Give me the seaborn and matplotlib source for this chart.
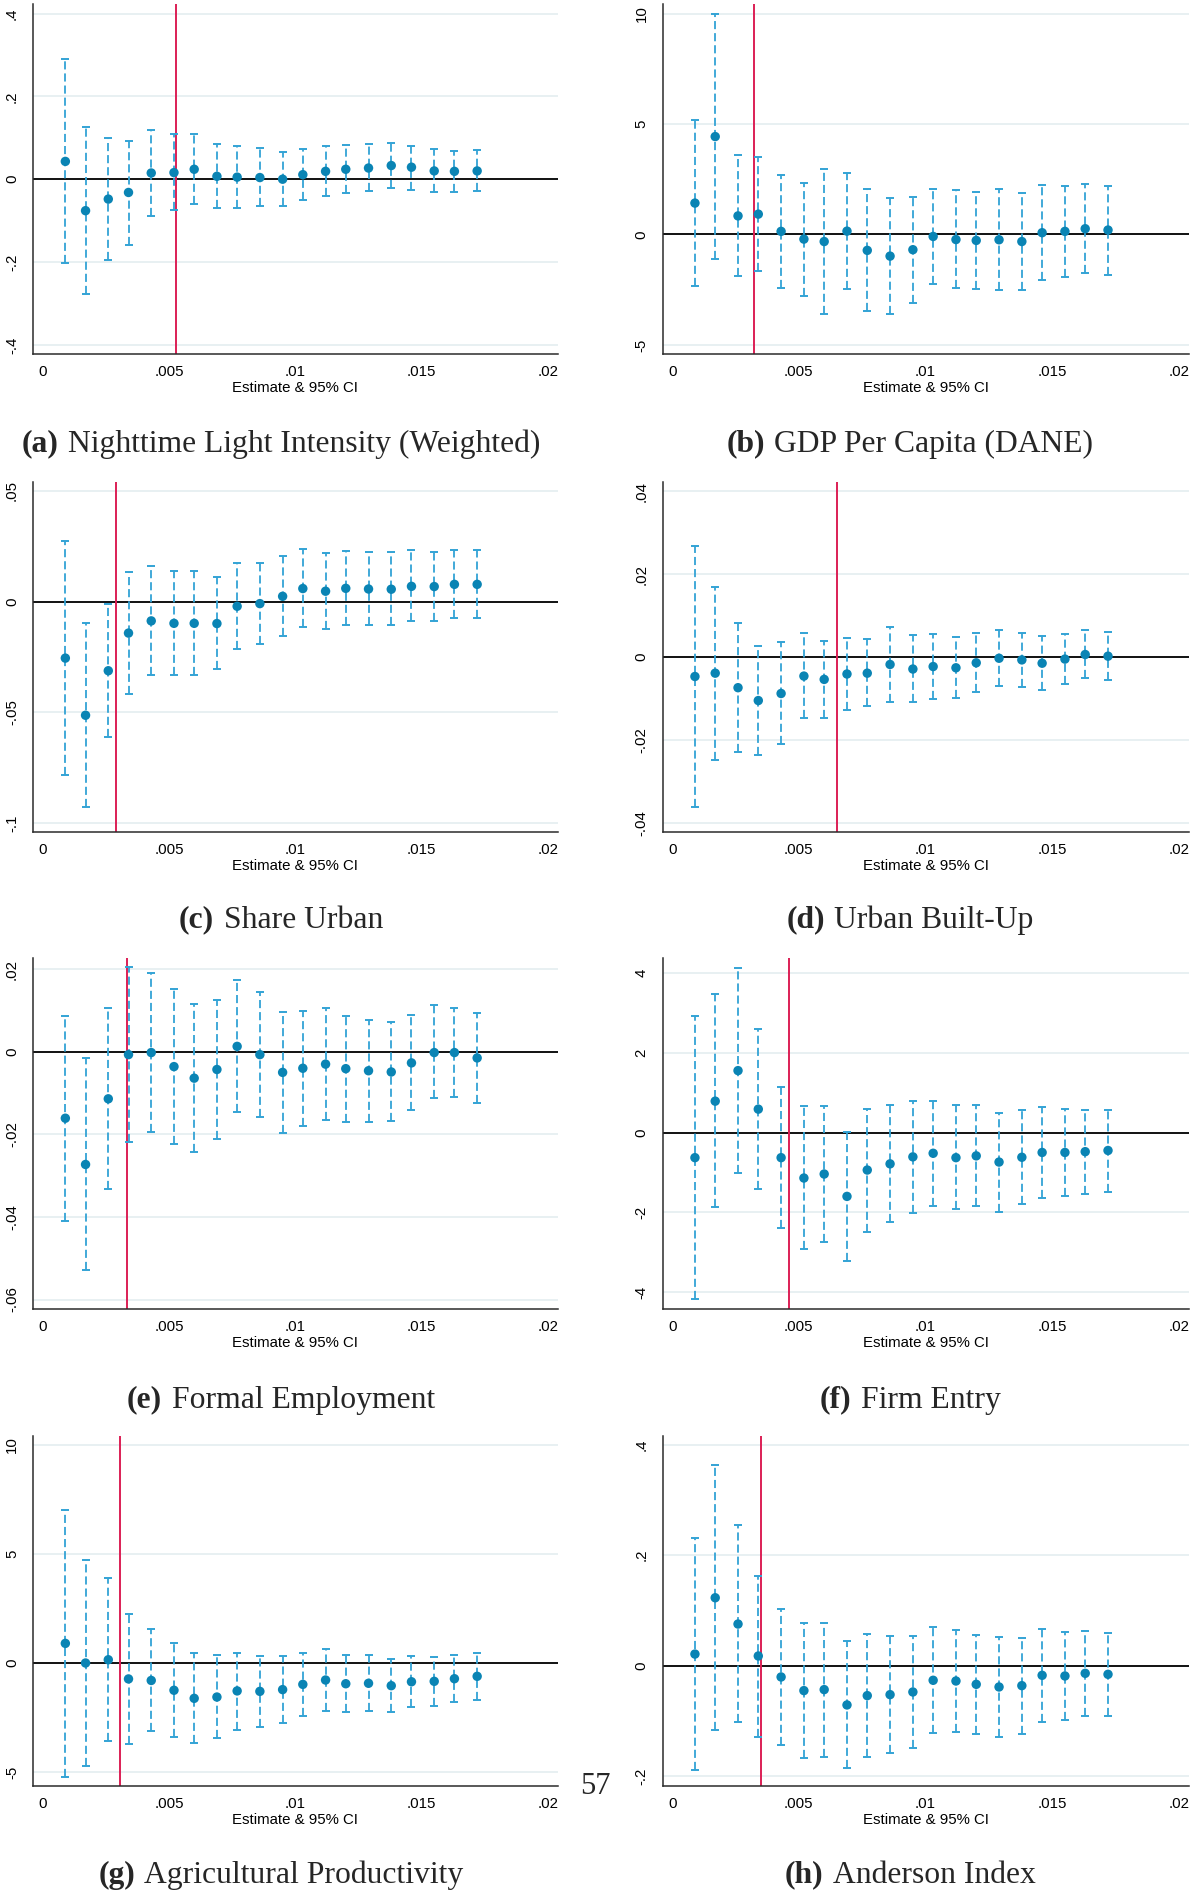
import numpy as np
import pandas as pd
import matplotlib
matplotlib.use("Agg")
import matplotlib.pyplot as plt
import seaborn as sns

# ---------------- data ----------------
bandwidth = [0.0009, 0.0017, 0.0026, 0.0034, 0.0043, 0.0052, 0.0060, 0.0069, 0.0077, 0.0086,
             0.0095, 0.0103, 0.0112, 0.0120, 0.0129, 0.0138, 0.0146, 0.0155, 0.0163, 0.0172]

x_ticks = [0, 0.005, 0.01, 0.015, 0.02]
x_ticklabels = ["0", ".005", ".01", ".015", ".02"]
x_label = "Estimate & 95% CI"

# (a) Nighttime Light Intensity (Weighted)
a_est = [0.043, -0.076, -0.048, -0.032, 0.015, 0.016, 0.024, 0.007, 0.005, 0.004,
         0.000, 0.011, 0.019, 0.024, 0.027, 0.033, 0.029, 0.020, 0.019, 0.020]
a_hi = [0.291, 0.126, 0.100, 0.093, 0.120, 0.108, 0.110, 0.084, 0.080, 0.075,
        0.065, 0.072, 0.080, 0.083, 0.084, 0.088, 0.081, 0.072, 0.068, 0.070]
a_lo = [-0.203, -0.278, -0.196, -0.158, -0.088, -0.075, -0.060, -0.070, -0.069, -0.065,
        -0.064, -0.051, -0.040, -0.034, -0.029, -0.022, -0.025, -0.031, -0.031, -0.029]
a_cut = 0.00529
a_yticks = [-0.4, -0.2, 0, 0.2, 0.4]
a_ylabels = ["-.4", "-.2", "0", ".2", ".4"]
a_ylim = (-0.422, 0.423)

# (b) GDP Per Capita (DANE)
b_est = [1.42, 4.43, 0.84, 0.92, 0.14, -0.21, -0.32, 0.15, -0.72, -0.98,
         -0.69, -0.09, -0.23, -0.27, -0.24, -0.32, 0.08, 0.14, 0.26, 0.20]
b_hi = [5.19, 10.0, 3.60, 3.50, 2.67, 2.35, 2.97, 2.76, 2.04, 1.64,
        1.70, 2.08, 1.99, 1.91, 2.04, 1.88, 2.23, 2.20, 2.29, 2.20]
b_lo = [-2.34, -1.13, -1.90, -1.64, -2.41, -2.77, -3.60, -2.49, -3.48, -3.60,
        -3.11, -2.26, -2.44, -2.47, -2.53, -2.52, -2.08, -1.94, -1.76, -1.82]
b_cut = 0.00323
b_yticks = [-5, 0, 5, 10]
b_ylabels = ["-5", "0", "5", "10"]
b_ylim = (-5.41, 10.43)

# (c) Share Urban
c_est = [-0.0255, -0.0513, -0.0312, -0.0142, -0.0087, -0.0098, -0.0098, -0.0099, -0.0021, -0.0009,
         0.0024, 0.0059, 0.0047, 0.0060, 0.0057, 0.0056, 0.0069, 0.0068, 0.0078, 0.0078]
c_hi = [0.0274, -0.0098, -0.0011, 0.0134, 0.0161, 0.0140, 0.0139, 0.0109, 0.0173, 0.0175,
        0.0205, 0.0237, 0.0220, 0.0229, 0.0226, 0.0222, 0.0231, 0.0226, 0.0234, 0.0234]
c_lo = [-0.0784, -0.0927, -0.0612, -0.0415, -0.0333, -0.0333, -0.0330, -0.0306, -0.0214, -0.0193,
        -0.0157, -0.0116, -0.0122, -0.0106, -0.0106, -0.0106, -0.0087, -0.0086, -0.0074, -0.0072]
c_cut = 0.00291
c_yticks = [-0.1, -0.05, 0, 0.05]
c_ylabels = ["-.1", "-.05", "0", ".05"]
c_ylim = (-0.104, 0.054)

# (d) Urban Built-Up
d_est = [-0.0047, -0.0039, -0.0074, -0.0105, -0.0088, -0.0046, -0.0054, -0.0041, -0.0039, -0.0018,
         -0.0029, -0.0023, -0.0026, -0.0014, -0.0003, -0.0007, -0.0015, -0.0005, 0.0006, 0.0002]
d_hi = [0.0268, 0.0169, 0.0082, 0.0027, 0.0035, 0.0058, 0.0038, 0.0046, 0.0043, 0.0073,
        0.0053, 0.0056, 0.0048, 0.0059, 0.0064, 0.0059, 0.0051, 0.0056, 0.0065, 0.0060]
d_lo = [-0.0362, -0.0248, -0.0230, -0.0237, -0.0210, -0.0148, -0.0146, -0.0128, -0.0118, -0.0109,
        -0.0108, -0.0101, -0.0099, -0.0084, -0.0070, -0.0072, -0.0080, -0.0066, -0.0051, -0.0056]
d_cut = 0.0065
d_yticks = [-0.04, -0.02, 0, 0.02, 0.04]
d_ylabels = ["-.04", "-.02", "0", ".02", ".04"]
d_ylim = (-0.0422, 0.0422)

# (e) Formal Employment
e_est = [-0.0161, -0.0273, -0.0114, -0.0007, -0.0002, -0.0036, -0.0064, -0.0043, 0.0013, -0.0007,
         -0.0050, -0.0040, -0.0030, -0.0041, -0.0046, -0.0049, -0.0027, -0.0002, -0.0002, -0.0015]
e_hi = [0.0087, -0.0016, 0.0105, 0.0204, 0.0190, 0.0152, 0.0116, 0.0126, 0.0173, 0.0144,
        0.0096, 0.0098, 0.0105, 0.0087, 0.0078, 0.0071, 0.0090, 0.0112, 0.0106, 0.0094]
e_lo = [-0.0409, -0.0528, -0.0332, -0.0218, -0.0194, -0.0223, -0.0244, -0.0211, -0.0147, -0.0157,
        -0.0196, -0.0179, -0.0165, -0.0170, -0.0171, -0.0168, -0.0142, -0.0112, -0.0110, -0.0123]
e_cut = 0.00334
e_yticks = [-0.06, -0.04, -0.02, 0, 0.02]
e_ylabels = ["-.06", "-.04", "-.02", "0", ".02"]
e_ylim = (-0.0623, 0.0227)

# (f) Firm Entry
f_est = [-0.63, 0.785, 1.55, 0.585, -0.63, -1.14, -1.04, -1.60, -0.94, -0.785,
         -0.61, -0.52, -0.63, -0.585, -0.74, -0.62, -0.50, -0.50, -0.48, -0.45]
f_hi = [2.92, 3.46, 4.13, 2.58, 1.15, 0.66, 0.66, 0.02, 0.60, 0.685,
        0.80, 0.79, 0.68, 0.685, 0.50, 0.575, 0.635, 0.59, 0.575, 0.575]
f_lo = [-4.18, -1.86, -1.02, -1.41, -2.40, -2.91, -2.74, -3.21, -2.49, -2.25,
        -2.01, -1.84, -1.91, -1.84, -1.98, -1.80, -1.64, -1.59, -1.53, -1.48]
f_cut = 0.0046
f_yticks = [-4, -2, 0, 2, 4]
f_ylabels = ["-4", "-2", "0", "2", "4"]
f_ylim = (-4.42, 4.37)

# (g) Agricultural Productivity
g_est = [0.90, 0.00, 0.15, -0.73, -0.80, -1.25, -1.62, -1.56, -1.28, -1.30,
         -1.22, -0.98, -0.78, -0.95, -0.93, -1.04, -0.86, -0.84, -0.72, -0.61]
g_hi = [7.02, 4.72, 3.90, 2.26, 1.57, 0.93, 0.46, 0.37, 0.47, 0.34,
        0.32, 0.46, 0.63, 0.37, 0.35, 0.18, 0.34, 0.29, 0.37, 0.44]
g_lo = [-5.21, -4.71, -3.59, -3.72, -3.12, -3.41, -3.67, -3.46, -3.06, -2.94,
        -2.75, -2.43, -2.19, -2.26, -2.20, -2.26, -2.03, -1.96, -1.79, -1.68]
g_cut = 0.00307
g_yticks = [-5, 0, 5, 10]
g_ylabels = ["-5", "0", "5", "10"]
g_ylim = (-5.64, 10.41)

# (h) Anderson Index
h_est = [0.021, 0.123, 0.0754, 0.0175, -0.0205, -0.0452, -0.0434, -0.0712, -0.0543, -0.0525,
         -0.0477, -0.0265, -0.0278, -0.0338, -0.0386, -0.0362, -0.0175, -0.0187, -0.0139, -0.0157]
h_hi = [0.2317, 0.3626, 0.254, 0.163, 0.103, 0.0766, 0.0778, 0.044, 0.058, 0.0537,
        0.0543, 0.0694, 0.0652, 0.0555, 0.0519, 0.0507, 0.0664, 0.0615, 0.0621, 0.0597]
h_lo = [-0.1894, -0.1164, -0.1026, -0.1285, -0.144, -0.167, -0.1647, -0.1858, -0.166, -0.1587,
        -0.1496, -0.1219, -0.1195, -0.1243, -0.1285, -0.123, -0.1014, -0.0983, -0.0905, -0.0917]
h_cut = 0.00352
h_yticks = [-0.2, 0, 0.2, 0.4]
h_ylabels = ["-.2", "0", ".2", ".4"]
h_ylim = (-0.218, 0.416)

caption_labels = ["(a)", "(b)", "(c)", "(d)", "(e)", "(f)", "(g)", "(h)"]
caption_texts = ["Nighttime Light Intensity (Weighted)", "GDP Per Capita (DANE)",
                 "Share Urban", "Urban Built-Up",
                 "Formal Employment", "Firm Entry",
                 "Agricultural Productivity", "Anderson Index"]
page_number = "57"

panels = [
    (a_est, a_lo, a_hi, a_cut, a_yticks, a_ylabels, a_ylim),
    (b_est, b_lo, b_hi, b_cut, b_yticks, b_ylabels, b_ylim),
    (c_est, c_lo, c_hi, c_cut, c_yticks, c_ylabels, c_ylim),
    (d_est, d_lo, d_hi, d_cut, d_yticks, d_ylabels, d_ylim),
    (e_est, e_lo, e_hi, e_cut, e_yticks, e_ylabels, e_ylim),
    (f_est, f_lo, f_hi, f_cut, f_yticks, f_ylabels, f_ylim),
    (g_est, g_lo, g_hi, g_cut, g_yticks, g_ylabels, g_ylim),
    (h_est, h_lo, h_hi, h_cut, h_yticks, h_ylabels, h_ylim),
]

# ---------------- style ----------------
sns.set_theme(style="white")
plt.rcParams['font.family'] = ['Liberation Sans', 'DejaVu Sans']

W, H = 1197, 1892
fig = plt.figure(figsize=(W / 100, H / 100), dpi=100)
fig.patch.set_facecolor("white")

MARK = "#0a84b4"
CI = "#33a3d5"
RED = "#dc1f55"
GRID = "#e6eff1"
AXC = "#2b2b2b"

col_px = [(33, 557.5), (662.5, 1188.6)]
row_px = [(4, 354), (482, 832), (958, 1309), (1436, 1786)]
cap_cx = [281, 910]
cap_cy = [444, 920, 1400, 1875]

for i, (est, lo, hi, cut, yt, yl, ylim) in enumerate(panels):
    r, c = divmod(i, 2)
    x0, x1 = col_px[c]
    y0, y1 = row_px[r]
    ax = fig.add_axes([x0 / W, 1 - y1 / H, (x1 - x0) / W, (y1 - y0) / H])
    df = pd.DataFrame({"bw": bandwidth, "est": est, "lo": lo, "hi": hi})

    ax.set_xlim(-0.00038, 0.02038)
    ax.set_ylim(*ylim)
    ax.set_yticks(yt)
    ax.set_yticklabels(yl, rotation=90, va="center")
    ax.set_xticks(x_ticks)
    ax.set_xticklabels(x_ticklabels)
    ax.yaxis.grid(True, color=GRID, lw=1.3)
    ax.xaxis.grid(False)
    ax.set_axisbelow(True)

    ax.axhline(0, color="black", lw=1.3, zorder=2)
    ax.axvline(cut, color=RED, lw=1.4, zorder=2)

    ax.vlines(df["bw"], df["lo"], df["hi"], colors=CI, linestyles=(0, (4.5, 2.2)),
              lw=1.3, zorder=3)
    ax.plot(df["bw"], df["lo"], ls="none", marker="_", ms=6, mew=1.4, color=CI, zorder=3)
    ax.plot(df["bw"], df["hi"], ls="none", marker="_", ms=6, mew=1.4, color=CI, zorder=3)
    sns.scatterplot(data=df, x="bw", y="est", ax=ax, color=MARK, s=46,
                    edgecolor="none", linewidth=0, zorder=4, legend=False)

    for s in ["top", "right"]:
        ax.spines[s].set_visible(False)
    for s in ["left", "bottom"]:
        ax.spines[s].set_color(AXC)
        ax.spines[s].set_linewidth(1.1)
    ax.tick_params(axis="both", which="major", direction="out", length=5, width=1.0,
                   color=AXC, labelsize=10.8, labelcolor="black", pad=3)
    ax.tick_params(axis="y", pad=5)
    ax.set_ylabel("")
    ax.set_xlabel(x_label, fontsize=10.8, labelpad=1, color="black")

# ---------------- captions ----------------
renderer = fig.canvas.get_renderer()
CAP_FS = 22.8
for i, (lab, txt) in enumerate(zip(caption_labels, caption_texts)):
    r, c = divmod(i, 2)
    cx, cy = cap_cx[c], cap_cy[r]
    t1 = fig.text(0, 0, lab, fontsize=CAP_FS, fontweight="bold",
                  family=["Liberation Serif", "DejaVu Serif"], ha="left", va="center")
    t2 = fig.text(0, 0, txt, fontsize=CAP_FS,
                  family=["Liberation Serif", "DejaVu Serif"], ha="left", va="center")
    w1 = t1.get_window_extent(renderer).width
    w2 = t2.get_window_extent(renderer).width
    gap = 0.3 * CAP_FS * 100 / 72
    total = w1 + gap + w2
    left = cx - total / 2
    t1.set_position((left / W, 1 - cy / H))
    t2.set_position(((left + w1 + gap) / W, 1 - cy / H))

fig.text(595 / W, 1 - 1786 / H, page_number, fontsize=22,
         family=["Liberation Serif", "DejaVu Serif"], ha="center", va="center")

fig.savefig("out.png", dpi=100, facecolor="white")
